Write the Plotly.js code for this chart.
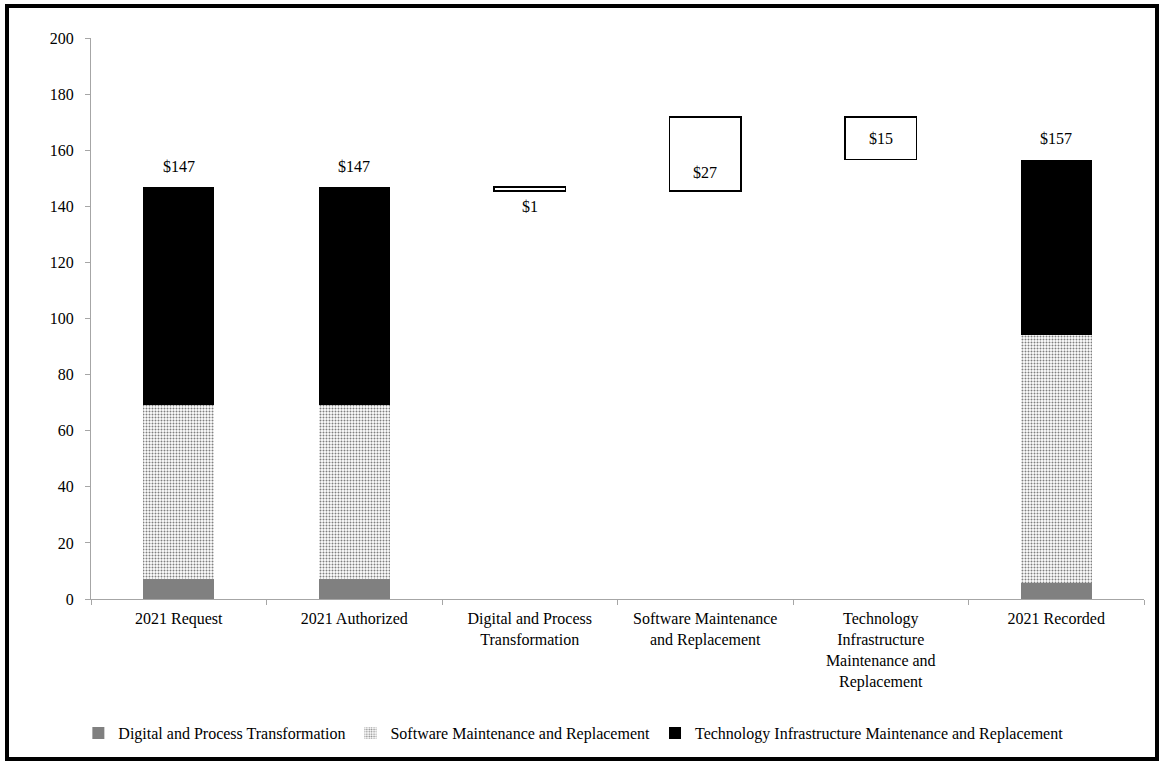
<!DOCTYPE html>
<html>
<head>
<meta charset="utf-8">
<script src="https://cdn.plot.ly/plotly-3.0.1.min.js"></script>
<style>
  html, body { margin: 0; padding: 0; background: #fff; }
  #wrap { position: relative; width: 1160px; height: 762px; }
  #chart { position: absolute; left: 0; top: 0; width: 1160px; height: 762px; }
  #frame { position: absolute; left: 5px; top: 4px; width: 1154px; height: 757px;
           border: 4px solid #000; box-sizing: border-box; pointer-events: none; }
</style>
</head>
<body>
<div id="wrap">
  <div id="chart"></div>
  <div id="frame"></div>
</div>
<script>
// ---- data ----
const categories = [
  '2021 Request',
  '2021 Authorized',
  'Digital and Process<br>Transformation',
  'Software Maintenance<br>and Replacement',
  'Technology<br>Infrastructure<br>Maintenance and<br>Replacement',
  '2021 Recorded'
];
const seriesNames = [
  'Digital and Process Transformation',
  'Software Maintenance and Replacement',
  'Technology Infrastructure Maintenance and Replacement'
];
const request    = [7.0, 62.0, 77.8];
const authorized = [7.0, 62.0, 77.8];
const recorded   = [5.6, 88.5, 62.5];

// ---- derived ----
const sum = a => a.reduce((s, v) => s + v, 0);
const fmt = v => '$' + Math.round(Math.abs(v));
const stackCats = [categories[0], categories[1], categories[5]];
const changeCats = [categories[2], categories[3], categories[4]];
const changes = recorded.map((v, i) => v - authorized[i]);
const bases = [];
let running = sum(authorized);
changes.forEach(c => { bases.push(running); running += c; });

const FONT = '"Liberation Serif", "Times New Roman", serif';
const BW = 0.405;

const fills = [
  { color: '#808080' },
  { color: '#ffffff', pattern: { shape: '.', fgcolor: '#808080', bgcolor: '#ffffff', size: 3, solidity: 0.35 } },
  { color: '#000000' }
];

const traces = seriesNames.map((name, i) => ({
  type: 'bar',
  name: name,
  x: stackCats,
  y: [request[i], authorized[i], recorded[i]],
  width: BW,
  marker: fills[i],
  hoverinfo: 'x+y+name'
}));

traces.push({
  type: 'bar',
  name: 'change',
  showlegend: false,
  x: changeCats,
  y: changes,
  base: bases,
  width: BW,
  marker: { color: '#ffffff', line: { color: '#000000', width: 1.5 } },
  hoverinfo: 'skip'
});

const totals = [sum(request), sum(authorized), sum(recorded)];
const annotations = [];
stackCats.forEach((c, i) => annotations.push({
  x: c, y: totals[i], text: fmt(totals[i]), showarrow: false,
  yshift: 21, font: { family: FONT, size: 16, color: '#000' }
}));
// box labels: below the small box, near the base of the rise, centred in the drop
const labelY = [
  Math.min(bases[0], bases[0] + changes[0]),
  bases[1],
  bases[2] + changes[2] / 2
];
const labelShift = [-15, 19, 0];
changeCats.forEach((c, i) => annotations.push({
  x: c, y: labelY[i], text: fmt(changes[i]), showarrow: false,
  yshift: labelShift[i], font: { family: FONT, size: 16, color: '#000' }
}));

const axisColor = '#a6a6a6';
const layout = {
  width: 1160, height: 762,
  paper_bgcolor: '#ffffff', plot_bgcolor: '#ffffff',
  margin: { l: 91, r: 16, t: 38, b: 163 },
  barmode: 'stack',
  font: { family: FONT, size: 16, color: '#000' },
  showlegend: true,
  legend: {
    orientation: 'h', x: -0.012, xanchor: 'left', y: -0.239, yanchor: 'middle',
    font: { family: FONT, size: 16, color: '#000' }, itemwidth: 30,
    bgcolor: 'rgba(0,0,0,0)', traceorder: 'normal'
  },
  xaxis: {
    type: 'category', categoryorder: 'array', categoryarray: categories,
    showline: true, linecolor: axisColor, linewidth: 1,
    ticks: 'outside', tickson: 'boundaries', ticklen: 5, tickcolor: axisColor,
    ticklabelstandoff: 5,
    showgrid: false, zeroline: false,
    tickfont: { family: FONT, size: 16, color: '#000' }
  },
  yaxis: {
    range: [0, 200], dtick: 20, tick0: 0,
    showline: true, linecolor: axisColor, linewidth: 1,
    ticks: 'outside', ticklen: 5, tickcolor: axisColor, ticklabelstandoff: 8,
    showgrid: false, zeroline: false,
    tickfont: { family: FONT, size: 16, color: '#000' }
  },
  annotations: annotations
};

Plotly.newPlot('chart', traces, layout, { displayModeBar: false, staticPlot: true });
</script>
</body>
</html>
